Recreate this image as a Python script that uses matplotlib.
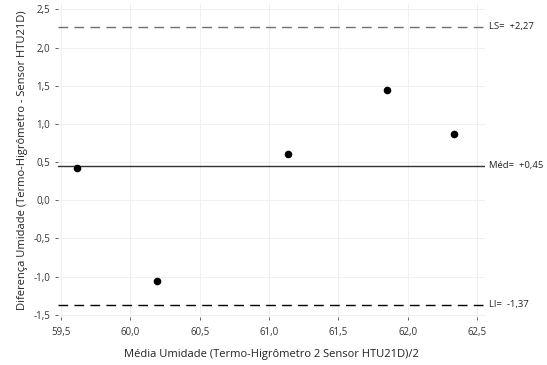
import matplotlib.pyplot as plt
import numpy as np

plt.rcParams['font.family'] = ['Open Sans', 'DejaVu Sans']

# dados
media = [59.615, 60.19, 61.137, 61.85, 62.333]
diferenca = [0.42, -1.055, 0.61, 1.445, 0.865]
ls = 2.27
med = 0.45
li = -1.37

xticks = [59.5, 60.0, 60.5, 61.0, 61.5, 62.0, 62.5]
yticks = [-1.5, -1.0, -0.5, 0.0, 0.5, 1.0, 1.5, 2.0, 2.5]

def virgula(v):
    return f"{v:.1f}".replace(".", ",")

fig = plt.figure(figsize=(5.47, 3.65), dpi=100)
ax = fig.add_axes([0.106, 0.132, 0.781, 0.860])

ax.scatter(media, diferenca, s=20, color="black", zorder=3)
ax.axhline(ls, color="#707070", lw=1.0, ls=(0, (7, 4.5)))
ax.axhline(med, color="#333333", lw=1.0)
ax.axhline(li, color="black", lw=1.0, ls=(0, (7, 4.5)))

ax.set_xlim(59.478, 62.558)
ax.set_ylim(-1.526, 2.585)

tr = ax.get_yaxis_transform()
ax.text(1.008, ls, "LS=  +2,27", transform=tr, va="center", fontsize=6.8, color="#222222")
ax.text(1.008, med, "Méd=  +0,45", transform=tr, va="center", fontsize=6.8, color="#222222")
ax.text(1.008, li, "LI=  -1,37", transform=tr, va="center", fontsize=6.8, color="#222222")

ax.set_xticks(xticks)
ax.set_xticklabels([virgula(v) for v in xticks])
ax.set_yticks(yticks)
ax.set_yticklabels([virgula(v) for v in yticks])
ax.tick_params(labelsize=7, colors="#444444", length=2, width=0.6)
ax.tick_params(axis="x", pad=5)
for lab in ax.get_xticklabels() + ax.get_yticklabels():
    lab.set_color("#333333")

ax.grid(True, color="#f0f0f0", lw=0.8)
ax.set_axisbelow(True)
for s in ax.spines.values():
    s.set_visible(False)

ax.set_xlabel("Média Umidade (Termo-Higrômetro 2 Sensor HTU21D)/2", fontsize=8, color="#222222", labelpad=8)
ax.set_ylabel("Diferença Umidade (Termo-Higrômetro - Sensor HTU21D)", fontsize=8, color="#222222", labelpad=4)

fig.savefig("out.png", dpi=100)
